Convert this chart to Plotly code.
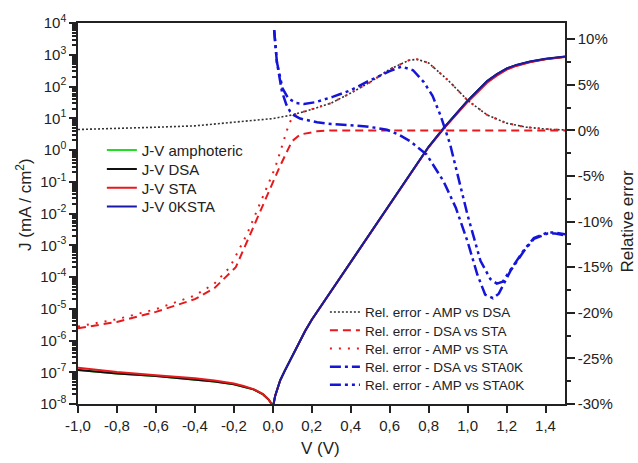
import plotly.graph_objects as go

# ---- J-V characteristics (|J| in mA/cm^2) ----
v_rev = [-1.0, -0.8, -0.6, -0.4, -0.3, -0.2, -0.15, -0.1, -0.05, -0.02, -0.006, -0.002]
j_rev_dsa = [1.17e-7, 9.1e-8, 7.6e-8, 6.0e-8, 5.1e-8, 4.2e-8, 3.5e-8, 2.9e-8, 2.0e-8, 1.35e-8, 1.0e-8, 7.0e-9]
j_rev_sta = [1.38e-7, 1.02e-7, 8.1e-8, 6.5e-8, 5.5e-8, 4.4e-8, 3.7e-8, 2.95e-8, 2.05e-8, 1.35e-8, 1.0e-8, 7.0e-9]

v_fwd = [0.002, 0.004, 0.012, 0.021, 0.038, 0.06, 0.081, 0.1, 0.124, 0.145, 0.166, 0.2,
         0.225, 0.252, 0.3, 0.4, 0.484, 0.6, 0.7, 0.757, 0.8, 0.877, 0.95, 0.997, 1.05,
         1.1, 1.15, 1.203, 1.25, 1.32, 1.4, 1.5]
j_fwd_dsa = [7.0e-9, 1.0e-8, 1.8e-8, 2.75e-8, 5.6e-8, 1.07e-7, 1.9e-7, 3.3e-7, 6.0e-7, 1.12e-6,
             2.0e-6, 4.5e-6, 7.6e-6, 1.35e-5, 3.5e-5, 2.9e-4, 1.7e-3, 1.95e-2, 0.158, 0.52,
             1.26, 4.9, 16.6, 34, 72, 145, 240, 370, 470, 600, 740, 870]
j_fwd_sta = [7.0e-9, 1.0e-8, 1.8e-8, 2.75e-8, 5.6e-8, 1.07e-7, 1.9e-7, 3.3e-7, 6.0e-7, 1.12e-6,
             2.0e-6, 4.5e-6, 7.6e-6, 1.35e-5, 3.5e-5, 2.9e-4, 1.7e-3, 1.95e-2, 0.158, 0.52,
             1.22, 4.6, 15.2, 31, 65, 132, 220, 345, 445, 575, 720, 850]
j_fwd_0k = [7.0e-9, 1.0e-8, 1.8e-8, 2.75e-8, 5.6e-8, 1.07e-7, 1.9e-7, 3.3e-7, 6.0e-7, 1.12e-6,
            2.0e-6, 4.5e-6, 7.6e-6, 1.35e-5, 3.5e-5, 2.9e-4, 1.7e-3, 1.95e-2, 0.158, 0.52,
            1.26, 4.9, 16.6, 34, 73, 148, 245, 375, 478, 610, 750, 880]

# ---- relative errors (%) ----
v_amp_dsa = [-1.0, -0.8, -0.6, -0.4, -0.2, 0.0, 0.1, 0.2, 0.3, 0.4, 0.5, 0.6, 0.7, 0.74,
             0.8, 0.9, 1.0, 1.1, 1.2, 1.3, 1.4, 1.5]
e_amp_dsa = [0.1, 0.2, 0.35, 0.5, 0.9, 1.3, 1.7, 2.3, 3.0, 4.1, 5.3, 6.7, 7.7, 7.8,
             7.4, 5.5, 3.3, 1.7, 0.8, 0.36, 0.15, 0.05]

v_dsa_sta = [-1.0, -0.8, -0.6, -0.4, -0.3, -0.19, -0.116, -0.039, 0.033, 0.098, 0.14,
             0.227, 0.3, 0.5, 1.0, 1.5]
e_dsa_sta = [-21.7, -21.0, -19.9, -18.5, -17.3, -15.0, -11.4, -7.7, -4.1, -1.2, -0.45,
             -0.1, 0.0, 0.0, 0.0, 0.0]

v_amp_sta = [-1.0, -0.8, -0.6, -0.4, -0.3, -0.22, -0.133, -0.06, 0.012, 0.055, 0.08, 0.105,
             0.2, 0.3, 0.4, 0.5, 0.6, 0.7, 0.74, 0.8, 0.9, 1.0, 1.1, 1.2, 1.3, 1.4, 1.5]
e_amp_sta = [-21.5, -20.7, -19.6, -18.1, -16.8, -15.0, -11.4, -7.7, -4.1, -1.2, 0.5, 1.7,
             2.3, 3.0, 4.1, 5.3, 6.7, 7.7, 7.8, 7.4, 5.5, 3.3, 1.7, 0.8, 0.36, 0.15, 0.05]

v_dsa_0k = [0.007, 0.021, 0.047, 0.07, 0.089, 0.106, 0.14, 0.227, 0.3, 0.4, 0.48, 0.586,
            0.65, 0.706, 0.79, 0.877, 0.94, 1.0, 1.05, 1.09, 1.13, 1.16, 1.22, 1.29,
            1.34, 1.41, 1.45, 1.5]
e_dsa_0k = [11.0, 7.5, 4.25, 2.8, 2.07, 1.7, 1.3, 0.9, 0.7, 0.55, 0.44, 0.08,
            -0.5, -1.2, -2.65, -5.6, -8.5, -12.2, -15.8, -18.0, -18.4, -17.9, -15.4, -13.2,
            -11.9, -11.3, -11.3, -11.5]

v_amp_0k = [0.007, 0.021, 0.05, 0.08, 0.12, 0.16, 0.22, 0.31, 0.4, 0.48, 0.6, 0.66, 0.72,
            0.775, 0.82, 0.86, 0.91, 0.96, 1.0, 1.066, 1.117, 1.15, 1.18, 1.22, 1.29, 1.34,
            1.41, 1.45, 1.5]
e_amp_0k = [11.0, 7.5, 4.6, 3.5, 3.0, 2.9, 3.1, 3.7, 4.4, 5.3, 6.5, 7.0, 6.6,
            5.3, 3.8, 1.7, -1.5, -5.8, -9.3, -14.3, -16.3, -16.8, -16.6, -15.3, -13.1, -11.8,
            -11.2, -11.2, -11.4]

# ---- axis tick labels ----
x_ticks = [-1.0, -0.8, -0.6, -0.4, -0.2, 0.0, 0.2, 0.4, 0.6, 0.8, 1.0, 1.2, 1.4]
x_labels = ["-1,0", "-0,8", "-0,6", "-0,4", "-0,2", "0,0", "0,2", "0,4", "0,6", "0,8",
            "1,0", "1,2", "1,4"]
j_ticks = [1e-8, 1e-7, 1e-6, 1e-5, 1e-4, 1e-3, 1e-2, 1e-1, 1e0, 1e1, 1e2, 1e3, 1e4]
j_labels = ["10<sup>-8</sup>", "10<sup>-7</sup>", "10<sup>-6</sup>", "10<sup>-5</sup>",
            "10<sup>-4</sup>", "10<sup>-3</sup>", "10<sup>-2</sup>", "10<sup>-1</sup>",
            "10<sup>0</sup>", "10<sup>1</sup>", "10<sup>2</sup>", "10<sup>3</sup>",
            "10<sup>4</sup>"]
e_ticks = [-30, -25, -20, -15, -10, -5, 0, 5, 10]
e_labels = ["-30%", "-25%", "-20%", "-15%", "-10%", "-5%", "0%", "5%", "10%"]

FONT = "Liberation Sans, Arial, sans-serif"
INK = "#222222"


def joined(v_a, y_a, v_b, y_b):
    # reverse and forward branches separated by a gap at V = 0
    return v_a + [None] + v_b, y_a + [None] + y_b


fig = go.Figure()

# every legend entry sits in its own legend box so the rows can be placed freely
vx, jy = joined(v_rev, j_rev_dsa, v_fwd, j_fwd_dsa)
fig.add_trace(go.Scatter(x=vx, y=jy, mode="lines", name="J-V amphoteric",
                         line=dict(color="#22dd22", width=2), legend="legend",
                         showlegend=True))
fig.add_trace(go.Scatter(x=vx, y=jy, mode="lines", name="J-V DSA",
                         line=dict(color="#111111", width=2), legend="legend2"))
vx, jy = joined(v_rev, j_rev_sta, v_fwd, j_fwd_sta)
fig.add_trace(go.Scatter(x=vx, y=jy, mode="lines", name="J-V STA",
                         line=dict(color="#e8191c", width=2), legend="legend3"))
fig.add_trace(go.Scatter(x=v_fwd, y=j_fwd_0k, mode="lines", name="J-V 0KSTA",
                         line=dict(color="#1a1aa8", width=2), legend="legend4"))

fig.add_trace(go.Scatter(x=v_amp_dsa, y=e_amp_dsa, mode="lines", yaxis="y2",
                         name="Rel. error - AMP vs DSA", legend="legend5",
                         line=dict(color="#333333", width=1.6, dash="2px,2px")))
fig.add_trace(go.Scatter(x=v_dsa_sta, y=e_dsa_sta, mode="lines", yaxis="y2",
                         name="Rel. error - DSA vs STA", legend="legend6",
                         line=dict(color="#e8191c", width=2, dash="8px,5px")))
fig.add_trace(go.Scatter(x=v_amp_sta, y=e_amp_sta, mode="lines", yaxis="y2",
                         name="Rel. error - AMP vs STA", legend="legend7",
                         line=dict(color="#e8191c", width=2, dash="2px,7px")))
fig.add_trace(go.Scatter(x=v_dsa_0k, y=e_dsa_0k, mode="lines", yaxis="y2",
                         name="Rel. error - DSA vs STA0K", legend="legend8",
                         line=dict(color="#1515d8", width=2.5, dash="11px,4px,3px,4px")))
fig.add_trace(go.Scatter(x=v_amp_0k, y=e_amp_0k, mode="lines", yaxis="y2",
                         name="Rel. error - AMP vs STA0K", legend="legend9",
                         line=dict(color="#1515d8", width=2.5,
                                   dash="11px,4px,3px,4px,3px,4px")))

axis_common = dict(showline=True, linecolor=INK, linewidth=1.5, ticks="outside",
                   tickcolor=INK, tickwidth=1.5, showgrid=False, zeroline=False,
                   tickfont=dict(family=FONT, size=15, color=INK))


def legend_box(x, y, size):
    return dict(x=x, y=y, xanchor="left", yanchor="middle", bgcolor="rgba(0,0,0,0)",
                borderwidth=0, font=dict(family=FONT, size=size, color=INK))


legend_rows_top = [0.666, 0.616, 0.567, 0.518]
legend_rows_bottom = [0.241, 0.193, 0.145, 0.097, 0.050]
legends = {}
for i, yy in enumerate(legend_rows_top):
    legends["legend" if i == 0 else f"legend{i + 1}"] = legend_box(0.049, yy, 15)
for i, yy in enumerate(legend_rows_bottom):
    legends[f"legend{i + 5}"] = legend_box(0.507, yy, 13.5)

fig.update_layout(
    width=638, height=463,
    margin=dict(l=78, r=73, t=21, b=59),
    showlegend=True,
    paper_bgcolor="white", plot_bgcolor="white",
    font=dict(family=FONT, color=INK),
    xaxis=dict(range=[-1.0, 1.5], tickmode="array", tickvals=x_ticks, ticktext=x_labels,
               ticklen=7, mirror=True, **axis_common),
    yaxis=dict(type="log", range=[-8, 4], tickmode="array", tickvals=j_ticks,
               ticktext=j_labels, ticklen=7,
               minor=dict(ticks="outside", ticklen=4, dtick="D1", tickcolor=INK),
               **axis_common),
    yaxis2=dict(overlaying="y", side="right", range=[-30, 11.78], tickmode="array",
                tickvals=e_ticks, ticktext=e_labels, ticklen=8,
                minor=dict(ticks="outside", ticklen=4, dtick=2.5, tick0=0, tickcolor=INK),
                **axis_common),
    annotations=[
        dict(text="J (mA / cm<sup>2</sup>)", xref="paper", yref="paper", x=-0.111,
             y=0.525, xanchor="center", yanchor="middle", textangle=-90, showarrow=False,
             font=dict(family=FONT, size=17, color=INK)),
        dict(text="Relative error", xref="paper", yref="paper", x=1.128, y=0.48,
             xanchor="center", yanchor="middle", textangle=-90, showarrow=False,
             font=dict(family=FONT, size=17, color=INK)),
        dict(text="V (V)", xref="paper", yref="paper", x=0.498, y=-0.118,
             xanchor="center", yanchor="middle", showarrow=False,
             font=dict(family=FONT, size=17, color=INK)),
    ],
    **legends,
)

fig.write_html("out.html")
